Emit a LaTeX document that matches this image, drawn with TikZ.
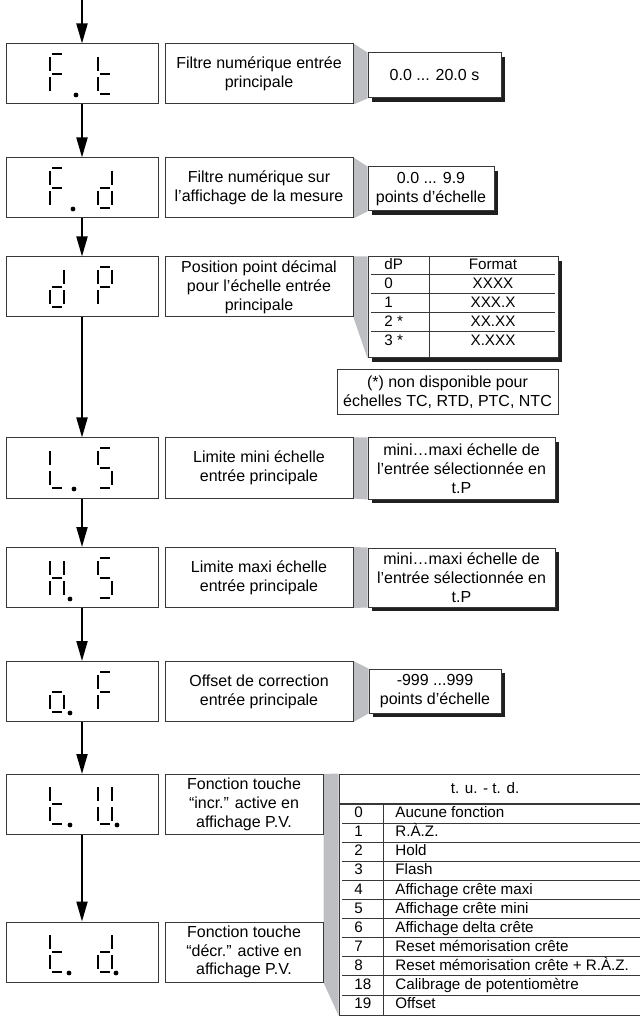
\documentclass[tikz,border=0pt]{standalone}
\usepackage{fontspec}
\setmainfont{Liberation Sans}
\usetikzlibrary{arrows.meta,shadows,backgrounds}
\definecolor{wedgegray}{RGB}{190,191,195}
\definecolor{framegray}{RGB}{55,55,55}
\tikzset{
  dispbox/.style = {draw=framegray, line width=0.5pt, minimum width=76pt, minimum height=30pt, inner sep=0pt},
  descbox/.style = {draw=framegray, line width=0.5pt, minimum height=30pt, align=center, inner sep=0pt, font=\fontsize{8}{9.4}\selectfont},
  valbox/.style = {descbox, fill=white, drop shadow={shadow xshift=2pt, shadow yshift=-2pt, fill=black!88, opacity=1}},
  notebox/.style = {descbox, fill=white},
  tabtext/.style = {inner sep=0pt, text height=5.6pt, text depth=1.6pt, font=\fontsize{7.6}{9}\selectfont},
  tabrule/.style = {draw=framegray, line width=0.5pt},
  lcdseg/.style = {line width=1.1pt},
  flow/.style = {line width=1pt, -{Triangle[length=10pt, width=5.5pt]}},
  wedgefill/.style = {fill=wedgegray},
}
% seven segment characters: a top, b/c right, d bottom, e/f left, g middle
\newcommand{\lcdsega}{\draw[lcdseg] (2,0) -- (12,0);}
\newcommand{\lcdsegb}{\draw[lcdseg] (14,3) -- (14,17);}
\newcommand{\lcdsegc}{\draw[lcdseg] (14,23) -- (14,37);}
\newcommand{\lcdsegd}{\draw[lcdseg] (2,40) -- (12,40);}
\newcommand{\lcdsege}{\draw[lcdseg] (0,23) -- (0,37);}
\newcommand{\lcdsegf}{\draw[lcdseg] (0,3) -- (0,17);}
\newcommand{\lcdsegg}{\draw[lcdseg] (2,20) -- (12,20);}
\newcommand{\lcdchar}[3]{%
  \begin{scope}[shift={(#1,#2)}]
    \foreach \s in {#3} {\csname lcdseg\s\endcsname}
  \end{scope}}
\newcommand{\lcddot}[2]{\fill (#1,#2) circle[radius=1.2pt];}

\begin{document}
\begin{tikzpicture}[x=0.5pt, y=-0.5pt]
\useasboundingbox (0,0) rectangle (639,1020);

% display column
\coordinate (top) at (82,0);
\node[dispbox] (FT) at (82,74) {};
\node[dispbox] (FD) at (82,188) {};
\node[dispbox] (DP) at (82,287) {};
\node[dispbox] (LS) at (82,468) {};
\node[dispbox] (HS) at (82,577.5) {};
\node[dispbox] (OF) at (82,691.5) {};
\node[dispbox] (TU) at (82,804.5) {};
\node[dispbox] (TD) at (82,952) {};

\lcdchar{50}{54}{a,f,g,e}   \lcdchar{98}{54}{f,e,g,d}   \lcddot{76}{95}
\lcdchar{50}{168}{a,f,g,e}  \lcdchar{98}{168}{b,c,e,g,d} \lcddot{73}{209}
\lcdchar{50}{267}{b,c,e,g,d} \lcdchar{98}{267}{a,b,f,g,e}
\lcdchar{50}{448}{f,e,d}    \lcdchar{98}{448}{a,f,g,c,d} \lcddot{74}{489}
\lcdchar{50}{558}{b,c,e,f,g} \lcdchar{98}{558}{a,f,g,c,d} \lcddot{70}{599}
\lcdchar{50}{672}{g,c,d,e}  \lcdchar{98}{672}{a,f,g,e}   \lcddot{70}{713}
\lcdchar{50}{784}{f,e,g,d}  \lcdchar{98}{784}{b,c,d,e,f} \lcddot{70}{825} \lcddot{117}{825}
\lcdchar{50}{932}{f,e,g,d}  \lcdchar{98}{932}{b,c,d,e,g} \lcddot{69}{973} \lcddot{116}{973}

% descriptions
\node[descbox, minimum width=94pt] (FTd) at (259,74) {Filtre numérique entrée\\principale};
\node[descbox, minimum width=94pt] (FDd) at (259,188) {Filtre numérique sur\\l’affichage de la mesure};
\node[descbox, minimum width=94pt] (DPd) at (259,287) {Position point décimal\\pour l’échelle entrée\\principale};
\node[descbox, minimum width=94pt] (LSd) at (259,468) {Limite mini échelle\\entrée principale};
\node[descbox, minimum width=94pt] (HSd) at (259,577.5) {Limite maxi échelle\\entrée principale};
\node[descbox, minimum width=94pt] (OFd) at (259,691.5) {Offset de correction\\entrée principale};
\node[descbox, minimum width=79pt] (TUd) at (244,804.5) {Fonction touche\\“incr.” active en\\affichage P.V.};
\node[descbox, minimum width=79pt] (TDd) at (244,952) {Fonction touche\\“décr.” active en\\affichage P.V.};

% values
\node[valbox, minimum width=66.5pt, minimum height=22.5pt] (FTv) at (434.5,75.5) {0.0 ... 20.0 s};
\node[valbox, minimum width=63pt, minimum height=22pt] (FDv) at (431,189) {0.0 ... 9.9\\points d’échelle};
\node[valbox, minimum width=95pt, minimum height=50.5pt] (DPv) at (463,307.5) {};
\node[notebox, minimum width=110.5pt, minimum height=22.5pt] (DPn) at (447.5,392.5) {(*) non disponible pour\\échelles TC, RTD, PTC, NTC};
\node[valbox, minimum width=93.5pt, minimum height=30.5pt] (LSv) at (461.5,468.5) {mini…maxi échelle de\\l’entrée sélectionnée en\\t.P};
\node[valbox, minimum width=93.5pt, minimum height=29.5pt] (HSv) at (461.5,577.5) {mini…maxi échelle de\\l’entrée sélectionnée en\\t.P};
\node[valbox, minimum width=66pt, minimum height=22pt] (OFv) at (435,691) {-999 ...999\\points d’échelle};
\node[notebox, minimum width=151.5pt, minimum height=120.5pt] (TUt) at (490.5,894.5) {};

% dP table
\draw[tabrule] (429,257) -- (429,358);
\foreach \y in {275,294,313,332} \draw[tabrule] (371,\y) -- (555,\y);
\node[tabtext, anchor=west] (dph) at (384,266) {dP};
\node[tabtext] (fmh) at (493,266) {Format};
\foreach \n/\f/\y [count=\i] in {0/XXXX/284.5, 1/XXX.X/303.5, 2 */XX.XX/322.5, 3 */X.XXX/342}
  {\node[tabtext, anchor=west] (dp\i) at (384,\y) {\n};
   \node[tabtext] (fm\i) at (493,\y) {\f};}

% t.u / t.d table
\node[tabtext] (tuh) at (485,789) {t. u. - t. d.};
\draw[tabrule, line width=1pt] (339,804) -- (642,804);
\draw[tabrule] (383,804) -- (383,1015);
\foreach \i in {1,...,10} \draw[tabrule] (342,804+19.1*\i) -- (642,804+19.1*\i);
\foreach \n/\t [count=\i from 0] in {0/Aucune fonction, 1/R.À.Z., 2/Hold, 3/Flash,
    4/Affichage crête maxi, 5/Affichage crête mini, 6/Affichage delta crête,
    7/Reset mémorisation crête, 8/Reset mémorisation crête + R.À.Z.,
    18/Calibrage de potentiomètre, 19/Offset}
  {\node[tabtext, anchor=west] (tn\i) at (354,813.6+19.1*\i) {\n};
   \node[tabtext, anchor=west] (tt\i) at (395,813.6+19.1*\i) {\t};}

% gray links
\begin{scope}[on background layer]
\foreach \a/\b in {FTd/FTv, FDd/FDv, DPd/DPv, LSd/LSv, HSd/HSv, OFd/OFv}
  \path[wedgefill] (\a.north east) -- (\b.north west) -- (\b.south west) -- (\a.south east) -- cycle;
\path[wedgefill] (TUd.north east) -- (TUt.north west) -- (TUt.south west) -- (TDd.south east) -- cycle;
\end{scope}

% arrows
\draw[flow] (top) -- (FT.north);
\foreach \a/\b in {FT/FD, FD/DP, DP/LS, LS/HS, HS/OF, OF/TU, TU/TD}
  \draw[flow] (\a.south) -- (\b.north);
\end{tikzpicture}
\end{document}
